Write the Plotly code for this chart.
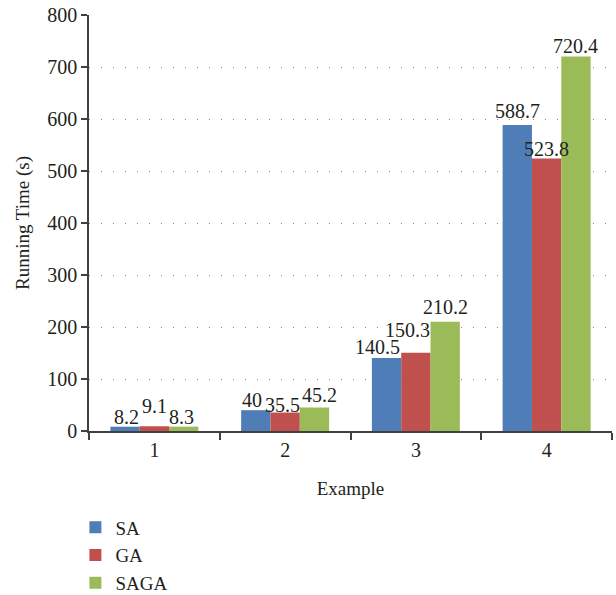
import plotly.graph_objects as go

examples = ["1", "2", "3", "4"]
sa_times = [8.2, 40, 140.5, 588.7]
ga_times = [9.1, 35.5, 150.3, 523.8]
saga_times = [8.3, 45.2, 210.2, 720.4]

series_names = ["SA", "GA", "SAGA"]
series_values = [sa_times, ga_times, saga_times]
series_colors = ["#4f7db8", "#c0504d", "#9bbb59"]

# per-label nudges (px) so crowded value labels stay readable
label_lift = [
    [0, 0, 1, 4],
    [10, -2, 13, 0],
    [0, 3, 5, 0],
]
label_nudge = [
    [1, -4, -9, 0],
    [0, -3, -8, 0],
    [-2, 5, 0, 0],
]

FONT = "Liberation Serif"
TEXT_COLOR = "#231f20"
AXIS_COLOR = "#404040"

W, H = 616, 595
M_L, M_R, M_T, M_B = 89, 4, 15, 164
BARGAP = 0.327
plot_w = W - M_L - M_R
bar_px = plot_w / len(examples) * (1 - BARGAP) / len(series_names)

fig = go.Figure()
for name, vals, color in zip(series_names, series_values, series_colors):
    fig.add_trace(go.Bar(
        name=name,
        x=examples,
        y=vals,
        marker=dict(color=color, line=dict(width=0)),
    ))

# value labels above each bar (category index on the x axis)
for si, vals in enumerate(series_values):
    for ci, v in enumerate(vals):
        fig.add_annotation(
            x=ci, y=v, xref="x", yref="y",
            text=f"{v:g}",
            showarrow=False,
            xanchor="center", yanchor="bottom",
            xshift=(si - 1) * bar_px + label_nudge[si][ci],
            yshift=label_lift[si][ci] - 3,
            font=dict(family=FONT, size=20, color=TEXT_COLOR),
        )

fig.update_layout(
    width=W,
    height=H,
    margin=dict(l=M_L, r=M_R, t=M_T, b=M_B, autoexpand=False),
    paper_bgcolor="white",
    plot_bgcolor="white",
    barmode="group",
    bargap=BARGAP,
    bargroupgap=0,
    font=dict(family=FONT, size=20, color=TEXT_COLOR),
    legend=dict(
        orientation="v",
        x=-0.026,
        xanchor="left",
        y=-0.186,
        yanchor="top",
        font=dict(family=FONT, size=19, color=TEXT_COLOR),
        itemsizing="constant",
        tracegroupgap=0,
    ),
    showlegend=True,
)

fig.update_xaxes(
    type="category",
    range=[-0.5, len(examples) - 0.5],
    autorange=False,
    showline=True,
    linecolor=AXIS_COLOR,
    linewidth=1.5,
    ticks="outside",
    tickson="boundaries",
    ticklen=7,
    tickcolor=AXIS_COLOR,
    tickwidth=1.5,
    showgrid=False,
    automargin=False,
    title=dict(text="Example", standoff=22, font=dict(family=FONT, size=19, color=TEXT_COLOR)),
    tickfont=dict(family=FONT, size=20, color=TEXT_COLOR),
)

fig.update_yaxes(
    range=[0, 800],
    autorange=False,
    dtick=100,
    showline=True,
    linecolor=AXIS_COLOR,
    linewidth=1.5,
    ticks="outside",
    ticklen=6,
    tickcolor=AXIS_COLOR,
    tickwidth=1.5,
    showgrid=True,
    gridcolor="#8c8c8c",
    gridwidth=1,
    griddash="1px,11px",
    zeroline=False,
    automargin=False,
    title=dict(text="Running Time (s)", standoff=13, font=dict(family=FONT, size=19, color=TEXT_COLOR)),
    tickfont=dict(family=FONT, size=20, color=TEXT_COLOR),
)

fig.write_html("out.html")
